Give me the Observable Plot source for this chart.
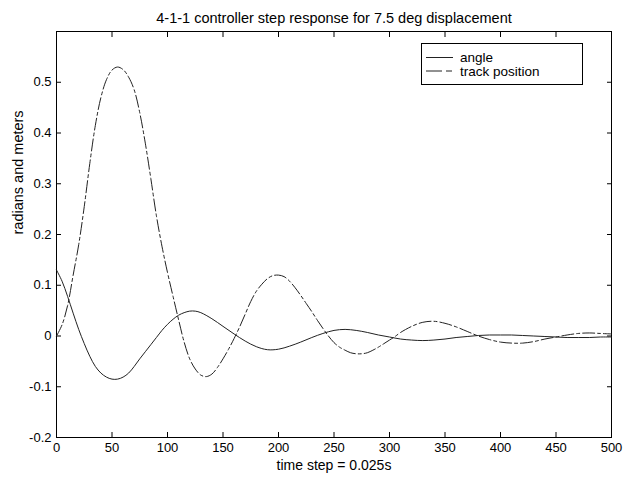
<!DOCTYPE html>
<html><head><meta charset="utf-8">
<script src="https://cdn.jsdelivr.net/npm/d3@7"></script>
<script src="https://cdn.jsdelivr.net/npm/@observablehq/plot@0.6"></script>
<style>body{margin:0;background:#fff}</style>
</head><body><div id="chart"></div>
<script>
const chartTitle = "4-1-1 controller step response for 7.5 deg displacement";
const xLabel = "time step = 0.025s";
const yLabel = "radians and meters";
const seriesNames = ["angle", "track position"];

const angleTime = [0,5,10,15,20,25,30,35,40,45,50,55,60,65,70,75,80,85,90,95,100,105,110,115,120,125,130,140,150,160,170,180,190,200,210,220,230,240,250,260,270,280,290,300,310,320,330,340,350,360,370,380,390,400,410,420,430,440,450,460,470,480,490,500];
const angleValue = [0.130,0.108,0.078,0.045,0.013,-0.015,-0.040,-0.060,-0.073,-0.081,-0.085,-0.085,-0.081,-0.073,-0.060,-0.045,-0.031,-0.017,-0.003,0.011,0.023,0.033,0.041,0.046,0.049,0.049,0.046,0.034,0.019,0.004,-0.010,-0.021,-0.027,-0.026,-0.020,-0.012,-0.003,0.005,0.011,0.013,0.011,0.007,0.002,-0.002,-0.006,-0.008,-0.009,-0.008,-0.006,-0.003,-0.001,0.001,0.002,0.002,0.002,0.001,0.000,-0.001,-0.002,-0.003,-0.003,-0.003,-0.002,-0.002];

const trackTime = [0,5,10,15,20,25,30,35,40,45,50,55,60,65,70,75,80,85,90,95,100,105,110,115,120,125,130,135,140,145,150,155,160,165,170,175,180,185,190,195,200,205,210,215,220,225,230,235,240,245,250,255,260,265,270,275,280,285,290,295,300,305,310,320,330,340,350,360,370,380,390,400,410,420,430,440,450,460,470,480,490,500];
const trackValue = [0.000,0.022,0.060,0.120,0.180,0.255,0.340,0.415,0.470,0.505,0.524,0.530,0.525,0.510,0.485,0.440,0.380,0.310,0.237,0.177,0.125,0.078,0.032,-0.012,-0.045,-0.065,-0.077,-0.080,-0.075,-0.062,-0.045,-0.026,-0.005,0.018,0.043,0.068,0.088,0.102,0.113,0.119,0.120,0.117,0.108,0.095,0.080,0.064,0.048,0.031,0.015,0.000,-0.013,-0.022,-0.028,-0.033,-0.035,-0.035,-0.033,-0.028,-0.022,-0.015,-0.008,-0.001,0.007,0.019,0.027,0.029,0.025,0.018,0.009,0.000,-0.007,-0.012,-0.014,-0.014,-0.011,-0.006,-0.002,0.002,0.005,0.006,0.005,0.004];

const xTicks = [0,50,100,150,200,250,300,350,400,450,500];
const yTicks = [-0.2,-0.1,0,0.1,0.2,0.3,0.4,0.5];

const angleData = angleTime.map((t, i) => ({t, v: angleValue[i]}));
const trackData = trackTime.map((t, i) => ({t, v: trackValue[i]}));

const lineColor = "#222";
const dashDot = "12,3,3,3";
const fmtY = d => d === 0 ? "0" : d.toFixed(1);
const font = "'Liberation Sans', Arial, sans-serif";

const plot = Plot.plot({
  width: 624, height: 480,
  marginTop: 31, marginLeft: 56, marginRight: 13, marginBottom: 43,
  style: {fontFamily: font, fontSize: "13px", background: "white", color: "black", overflow: "visible"},
  x: {domain: [0, 500]},
  y: {domain: [-0.2, 0.6]},
  marks: [
    Plot.axisX(xTicks, {anchor: "bottom", tickSize: -5, tickPadding: 10, label: null, fontSize: 13}),
    Plot.axisX(xTicks, {anchor: "top", tickSize: -5, tickFormat: () => "", label: null}),
    Plot.axisY(yTicks, {anchor: "left", tickSize: -5, tickPadding: 10, tickFormat: fmtY, label: null, fontSize: 13}),
    Plot.axisY(yTicks, {anchor: "right", tickSize: -5, tickFormat: () => "", label: null}),
    Plot.frame({stroke: "black", strokeWidth: 1}),
    Plot.line(angleData, {x: "t", y: "v", stroke: lineColor, strokeWidth: 1, curve: "catmull-rom"}),
    Plot.line(trackData, {x: "t", y: "v", stroke: lineColor, strokeWidth: 1, strokeDasharray: dashDot, curve: "catmull-rom"}),
    Plot.text([chartTitle], {frameAnchor: "top", dy: -19, fontSize: 14.5, fill: "black"}),
    Plot.text([xLabel], {frameAnchor: "bottom", dy: 32, fontSize: 14, fill: "black"}),
    Plot.text([yLabel], {frameAnchor: "left", dx: -38, rotate: -90, fontSize: 14.5, fill: "black"})
  ]
});
document.getElementById("chart").appendChild(plot);

// legend box
const svg = d3.select(plot);
const lg = svg.append("g").attr("font-family", font).attr("font-size", 13.5).attr("text-anchor", "start");
lg.append("rect").attr("x", 421.5).attr("y", 43.5).attr("width", 161).attr("height", 41)
  .attr("fill", "white").attr("stroke", "black");
seriesNames.forEach((name, i) => {
  const y = 57.5 + i * 13.5;
  lg.append("line").attr("x1", 426).attr("x2", 453).attr("y1", y).attr("y2", y)
    .attr("stroke", lineColor).attr("stroke-dasharray", i === 1 ? "16,4,6,100" : null);
  lg.append("text").attr("x", 460).attr("y", y).attr("dy", "0.35em").attr("fill", "black").text(name);
});
</script>
</body></html>
